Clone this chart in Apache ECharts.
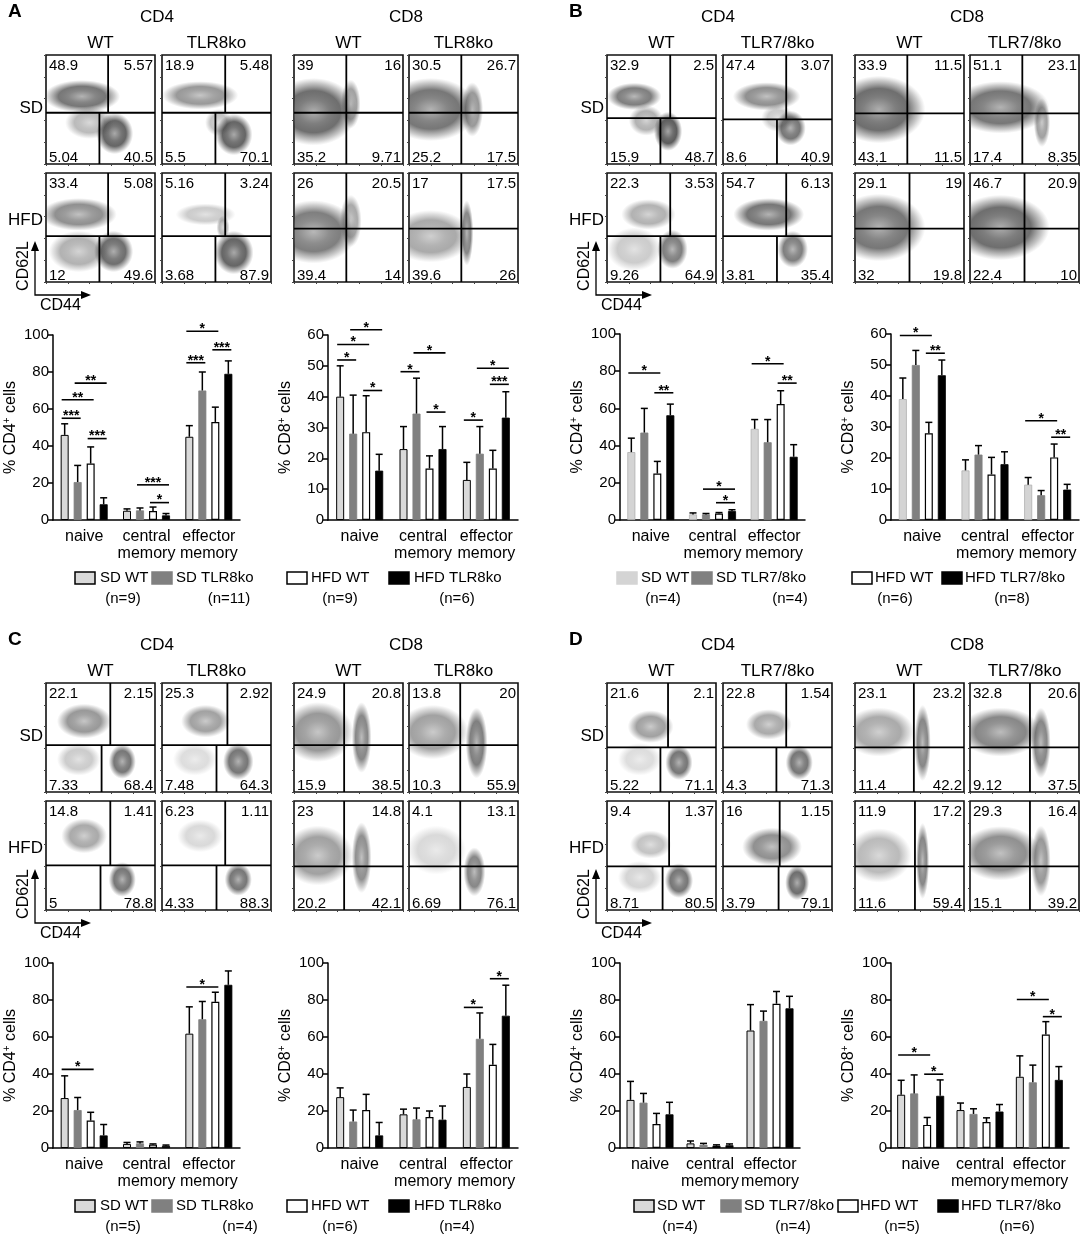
<!DOCTYPE html>
<html><head><meta charset="utf-8">
<script src="https://cdn.jsdelivr.net/npm/echarts@6/dist/echarts.min.js"></script>
<style>html,body{margin:0;padding:0;background:#fff}#c{width:1084px;height:1238px}</style>
</head><body><div id="c"></div>
<script>
// ---------------- DATA ----------------
const barCategories = ['naive', 'central\nmemory', 'effector\nmemory'];
const groupsTLR8 = ['SD WT', 'SD TLR8ko', 'HFD WT', 'HFD TLR8ko'];
const groupsTLR78 = ['SD WT', 'SD TLR7/8ko', 'HFD WT', 'HFD TLR7/8ko'];
const flowRowLabels = ['SD', 'HFD'];
const flowColLabelsTLR8 = ['WT', 'TLR8ko', 'WT', 'TLR8ko'];
const flowColLabelsTLR78 = ['WT', 'TLR7/8ko', 'WT', 'TLR7/8ko'];
const cellLabels = ['CD4', 'CD8'];
const aN = [9, 11, 9, 6], bN = [4, 4, 6, 8], cN = [5, 4, 6, 4], dN = [4, 4, 5, 6];

// bar means / error-bar tops: rows = SD WT, SD KO, HFD WT, HFD KO; cols = naive, central, effector
const aCD4Mean = [[46, 5, 45], [20.5, 5.2, 70], [30.5, 4.8, 53], [8.5, 2.5, 79]];
const aCD4Err  = [[52, 6, 51], [29.5, 6.5, 80], [39.5, 7, 61], [12, 3.5, 86]];
const aCD4Sig  = [[0,0,1,55,'***'],[0,0,2,65,'**'],[0,1,3,74,'**'],[0,2,3,44,'***'],[1,1,3,19,'***'],[1,2,3,9.4,'*'],[2,0,2,102,'*'],[2,0,1,85,'***'],[2,2,3,92,'***']];
const aCD8Mean = [[40, 23, 13], [28, 34.5, 21.5], [28.5, 16.7, 16.7], [16, 23, 33.2]];
const aCD8Err  = [[50, 30.3, 18.7], [40.5, 46, 30.3], [40.3, 20.8, 22.6], [21.3, 30.3, 41.6]];
const aCD8Sig  = [[0,0,1,51.9,'*'],[0,0,2,56.9,'*'],[0,1,3,61.7,'*'],[0,2,3,42,'*'],[1,0,1,48.1,'*'],[1,1,3,54.2,'*'],[1,2,3,35,'*'],[2,0,1,32.4,'*'],[2,1,3,49.2,'*'],[2,2,3,44,'***']];
const bCD4Mean = [[36.5, 3, 49], [47, 3, 41.8], [25, 3.5, 62.3], [56.3, 4.8, 34]];
const bCD4Err  = [[44, 3.8, 54], [60, 3.5, 54], [31.5, 4, 69.5], [62.3, 5.5, 40.5]];
const bCD4Sig  = [[0,0,2,79,'*'],[0,2,3,68.4,'**'],[1,1,3,16.6,'*'],[1,2,3,9.3,'*'],[2,0,2,84,'*'],[2,2,3,73.6,'**']];
const bCD8Mean = [[39, 16, 11.4], [50, 21.1, 8], [28, 14.7, 20.2], [46.7, 18, 9.8]];
const bCD8Err  = [[45.8, 19.4, 13.7], [54.7, 24, 9.5], [31.5, 20.2, 24.5], [51.6, 22, 11.5]];
const bCD8Sig  = [[0,0,2,59.5,'*'],[0,2,3,53.8,'**'],[2,0,2,32,'*'],[2,2,3,26.7,'**']];
const cCD4Mean = [[27, 2.2, 61.8], [20.5, 2.5, 69.6], [14.8, 1.8, 79], [6.8, 1.2, 88.2]];
const cCD4Err  = [[39, 3, 76.3], [27.3, 3.3, 79.2], [19.3, 2.2, 84.2], [12.7, 1.6, 95.7]];
const cCD4Sig  = [[0,0,2,42.5,'*'],[2,0,2,87,'*']];
const cCD8Mean = [[27.5, 18.2, 33], [14.3, 15.5, 59], [20.5, 16.7, 45], [6.8, 15.3, 71.5]];
const cCD8Err  = [[32.5, 21, 40], [20.5, 21.6, 73], [29, 20, 56], [13.8, 22.7, 88]];
const cCD8Sig  = [[2,0,1,76,'*'],[2,2,3,91.5,'*']];
const dCD4Mean = [[26, 2.5, 63.5], [24.5, 1.8, 68.7], [13, 1.2, 78], [18.2, 1.5, 75.5]];
const dCD4Err  = [[36, 3.8, 77.5], [29.5, 2.5, 74], [18.7, 1.7, 84.6], [24.7, 2.2, 82]];
const dCD4Sig  = [];
const dCD8Mean = [[28.8, 20.5, 38.5], [29.5, 18.4, 35.5], [12.5, 14, 61.3], [28.2, 19.7, 36.8]];
const dCD8Err  = [[36.6, 24.3, 49.8], [39.5, 21.2, 44.8], [16.5, 16.3, 68.3], [36.8, 23.5, 44]];
const dCD8Sig  = [[0,0,2,50.3,'*'],[0,2,3,39.9,'*'],[2,0,2,80.3,'*'],[2,2,3,71,'*']];

// flow quadrant percentages [row][col] -> [upper-left, upper-right, lower-left, lower-right]
const aFlowQuad = [
  [['48.9','5.57','5.04','40.5'], ['18.9','5.48','5.5','70.1'], ['39','16','35.2','9.71'], ['30.5','26.7','25.2','17.5']],
  [['33.4','5.08','12','49.6'], ['5.16','3.24','3.68','87.9'], ['26','20.5','39.4','14'], ['17','17.5','39.6','26']]
];
const bFlowQuad = [
  [['32.9','2.5','15.9','48.7'], ['47.4','3.07','8.6','40.9'], ['33.9','11.5','43.1','11.5'], ['51.1','23.1','17.4','8.35']],
  [['22.3','3.53','9.26','64.9'], ['54.7','6.13','3.81','35.4'], ['29.1','19','32','19.8'], ['46.7','20.9','22.4','10']]
];
const cFlowQuad = [
  [['22.1','2.15','7.33','68.4'], ['25.3','2.92','7.48','64.3'], ['24.9','20.8','15.9','38.5'], ['13.8','20','10.3','55.9']],
  [['14.8','1.41','5','78.8'], ['6.23','1.11','4.33','88.3'], ['23','14.8','20.2','42.1'], ['4.1','13.1','6.69','76.1']]
];
const dFlowQuad = [
  [['21.6','2.1','5.22','71.1'], ['22.8','1.54','4.3','71.3'], ['23.1','23.2','11.4','42.2'], ['32.8','20.6','9.12','37.5']],
  [['9.4','1.37','8.71','80.5'], ['16','1.15','3.79','79.1'], ['11.9','17.2','11.6','59.4'], ['29.3','16.4','15.1','39.2']]
];
// gate positions in plot units [CD62L gate, CD44 gate upper, CD44 gate lower]
const aFlowGate = [[[47,57,49],[47,58,49],[47,48,48],[47,48,48]], [[42,57,49],[42,58,49],[49,48,48],[49,48,48]]];
const bFlowGate = [[[42,58,49],[41,58,49.5],[46.5,48,48],[46.5,48,48]], [[42,58,49],[42,58,49.5],[49,50,50],[49,50,50]]];
const cFlowGate = [[[43,59,51],[43,60,50],[43,46,46],[43,47,47]], [[41,59,50],[41,58,50],[40,46,46],[40,47,47]]];
const dFlowGate = [[[41,56,49],[41,58,49],[41,54,54],[41,55,55]], [[40,57,51],[40,52,51],[40,55,55],[40,55,55]]];
// cell clusters: [CD44 centre, CD62L centre, CD44 spread, CD62L spread, density]
const aFlowBlob = [
  [[[33,62,70,30,0.8],[63,28,34,38,0.9],[40,38,45,30,0.4]],
   [[35,63,70,26,0.6],[66,27,34,38,0.9],[52,38,25,25,0.35]],
   [[18,48,80,62,0.85],[52,55,18,45,0.55]],
   [[20,50,85,58,0.8],[58,50,20,50,0.6]]],
  [[[30,62,70,30,0.65],[62,28,36,38,0.85],[30,28,55,38,0.45]],
   [[40,62,55,20,0.3],[66,27,36,40,0.9],[56,50,12,22,0.4]],
   [[18,46,80,58,0.75],[52,56,20,48,0.5]],
   [[20,42,75,48,0.5],[53,45,12,60,0.7]]]
];
const bFlowBlob = [
  [[[25,62,50,25,0.75],[56,30,26,36,0.95],[36,40,32,28,0.45]],
   [[40,62,62,26,0.65],[62,33,28,32,0.8],[50,42,30,25,0.3]],
   [[22,50,85,62,0.85]],
   [[28,52,90,48,0.8],[66,38,15,45,0.55]]],
  [[[38,62,50,28,0.45],[60,30,28,36,0.75],[25,30,50,40,0.3]],
   [[42,62,65,30,0.8],[64,30,28,34,0.75]],
   [[22,50,85,62,0.8]],
   [[28,50,90,60,0.85]]]
];
const cFlowBlob = [
  [[[35,65,50,32,0.6],[70,28,25,32,0.8],[30,30,40,30,0.3]],
   [[40,65,45,30,0.55],[70,28,28,34,0.8],[30,30,40,30,0.2]],
   [[22,55,65,55,0.6],[62,50,18,65,0.7]],
   [[22,55,65,50,0.55],[62,45,20,65,0.75]]],
  [[[35,68,42,32,0.5],[70,28,25,32,0.8]],
   [[35,68,42,30,0.22],[70,28,25,30,0.8]],
   [[22,50,65,55,0.55],[62,48,18,65,0.65]],
   [[25,55,55,45,0.22],[60,35,20,45,0.7]]]
];
const dFlowBlob = [
  [[[40,60,42,30,0.55],[66,27,25,32,0.8],[30,30,40,30,0.2]],
   [[42,62,42,28,0.5],[70,27,25,32,0.8]],
   [[22,55,65,45,0.5],[62,45,15,70,0.7]],
   [[28,55,75,45,0.7],[65,45,18,65,0.7]]],
  [[[40,60,38,26,0.35],[66,27,26,32,0.8],[30,30,40,30,0.25]],
   [[45,58,55,35,0.65],[68,25,22,32,0.85]],
   [[22,50,60,50,0.4],[62,45,12,70,0.7]],
   [[28,52,75,50,0.65],[65,45,18,65,0.6]]]
];

// ---------------- BUILD ----------------
const FONT = '"Liberation Sans", Arial, Helvetica, sans-serif';
const grid = [], xAxis = [], yAxis = [], series = [], graphic = [];

function txt(text, x, y, size, align, valign, extra) {
  return Object.assign({type: 'text', x: x, y: y, silent: true,
    style: {text: text, font: (extra && extra.bold ? 'bold ' : '') + size + 'px ' + FONT, fill: '#000',
      textAlign: align, textVerticalAlign: valign, align: align, verticalAlign: valign}}, extra && extra.rot ? {rotation: extra.rot} : {});
}

function blobRender(params, api) {
  const c = api.coord([api.value(0), api.value(1)]);
  const s = api.size([api.value(2), api.value(3)]);
  const a = api.value(4);
  const cs = params.coordSys;
  const grad = new echarts.graphic.RadialGradient(0.5, 0.5, 0.5, [
    {offset: 0, color: 'rgba(160,160,160,' + a + ')'},
    {offset: 0.35, color: 'rgba(105,105,105,' + a + ')'},
    {offset: 0.62, color: 'rgba(55,55,55,' + (a * 0.85) + ')'},
    {offset: 0.85, color: 'rgba(70,70,70,' + (a * 0.35) + ')'},
    {offset: 1, color: 'rgba(100,100,100,0)'}]);
  return {type: 'group',
    clipPath: {type: 'rect', shape: {x: cs.x, y: cs.y, width: cs.width, height: cs.height}},
    children: [{type: 'circle', shape: {cx: 0, cy: 0, r: 1}, x: c[0], y: c[1],
      scaleX: Math.max(s[0] / 2, 0.5), scaleY: Math.max(s[1] / 2, 0.5), style: {fill: grad}}]};
}

function addFlow(left, top, quad, gate, blobs) {
  const gi = grid.length;
  grid.push({left: left, top: top, width: 109, height: 109, show: true, borderColor: '#111', borderWidth: 1.6, backgroundColor: '#fff'});
  const ax = {gridIndex: gi, type: 'value', min: 0, max: 100, interval: 20, axisLine: {show: false}, axisLabel: {show: false},
    splitLine: {show: false}, axisTick: {show: true, length: 2, lineStyle: {color: '#444', width: 1}}};
  xAxis.push(Object.assign({}, ax));
  yAxis.push(Object.assign({}, ax));
  series.push({type: 'custom', xAxisIndex: gi, yAxisIndex: gi, clip: true, silent: true, z: 1,
    data: blobs, renderItem: blobRender});
  series.push({type: 'custom', xAxisIndex: gi, yAxisIndex: gi, silent: true, z: 3, data: [gate],
    renderItem: function (params, api) {
      const h = api.value(0), vu = api.value(1), vl = api.value(2);
      const tl = api.coord([0, 100]), br = api.coord([100, 0]);
      const yH = api.coord([0, h])[1], xU = api.coord([vu, 0])[0], xL = api.coord([vl, 0])[0];
      const ls = {stroke: '#000', lineWidth: 1.8};
      const t = function (s, x, y, al, va) {
        return {type: 'text', style: {text: s, x: x, y: y, textAlign: al, textVerticalAlign: va, align: al, verticalAlign: va,
          font: '15px ' + FONT, fill: '#000'}};
      };
      return {type: 'group', children: [
        {type: 'line', shape: {x1: tl[0], y1: yH, x2: br[0], y2: yH}, style: ls},
        {type: 'line', shape: {x1: xU, y1: tl[1], x2: xU, y2: yH}, style: ls},
        {type: 'line', shape: {x1: xL, y1: yH, x2: xL, y2: br[1]}, style: ls},
        t(quad[0], tl[0] + 3, tl[1] + 3, 'left', 'top'),
        t(quad[1], br[0] - 2, tl[1] + 3, 'right', 'top'),
        t(quad[2], tl[0] + 3, br[1] + 1, 'left', 'bottom'),
        t(quad[3], br[0] - 2, br[1] + 1, 'right', 'bottom')
      ]};
    }});
}

const STEP = 13, BW = 8;
function styleFor(g, panelB) {
  if (g === 0) return panelB ? {color: '#d4d4d4', borderColor: '#b0b0b0', borderWidth: 0.8} : {color: '#d9d9d9', borderColor: '#000', borderWidth: 1};
  if (g === 1) return {color: '#808080', borderColor: '#808080', borderWidth: 0.8};
  if (g === 2) return {color: '#fff', borderColor: '#000', borderWidth: 1.2};
  return {color: '#000', borderColor: '#000', borderWidth: 0.8};
}

function addBar(left, top, width, height, max, interval, mean, err, sig, cell, panelB) {
  const gi = grid.length;
  grid.push({left: left, top: top, width: width, height: height});
  xAxis.push({gridIndex: gi, type: 'category', data: barCategories,
    axisLine: {lineStyle: {color: '#000', width: 1.5}},
    axisTick: {alignWithLabel: true, length: 5, lineStyle: {color: '#000', width: 1.5}},
    axisLabel: {interval: 0, color: '#000', fontSize: 16, lineHeight: 17, margin: 8, fontFamily: FONT}});
  yAxis.push({gridIndex: gi, type: 'value', min: 0, max: max, interval: interval,
    axisLine: {show: true, lineStyle: {color: '#000', width: 1.5}},
    axisTick: {show: true, length: 5, lineStyle: {color: '#000', width: 1.5}},
    splitLine: {show: false},
    axisLabel: {color: '#000', fontSize: 15, margin: 4, fontFamily: FONT},
    name: '% ' + cell + '{s|+} cells', nameLocation: 'middle', nameRotate: 90, nameGap: 33,
    nameTextStyle: {color: '#000', fontSize: 16, fontFamily: FONT, lineHeight: 18,
      rich: {s: {fontSize: 10, verticalAlign: 'top', lineHeight: 18, fontFamily: FONT, color: '#000'}}}});
  for (let g = 0; g < 4; g++) {
    series.push({type: 'bar', xAxisIndex: gi, yAxisIndex: gi, data: mean[g], barWidth: BW, barGap: '62.5%',
      itemStyle: styleFor(g, panelB), silent: true, z: 2});
  }
  const ed = [];
  for (let g = 0; g < 4; g++) for (let c = 0; c < 3; c++) ed.push([c, g, mean[g][c], err[g][c]]);
  series.push({type: 'custom', xAxisIndex: gi, yAxisIndex: gi, silent: true, z: 3, data: ed,
    encode: {x: 0, y: 3},
    renderItem: function (params, api) {
      const b = api.coord([api.value(0), api.value(2)]);
      const t = api.coord([api.value(0), api.value(3)]);
      const x = b[0] + (api.value(1) - 1.5) * STEP;
      const st = {stroke: '#000', lineWidth: 1.5};
      return {type: 'group', children: [
        {type: 'line', shape: {x1: x, y1: b[1], x2: x, y2: t[1]}, style: st},
        {type: 'line', shape: {x1: x - 3.5, y1: t[1], x2: x + 3.5, y2: t[1]}, style: st}]};
    }});
  if (sig.length) {
    series.push({type: 'custom', xAxisIndex: gi, yAxisIndex: gi, silent: true, z: 4,
      data: sig.map(function (s) { return [s[0], s[3], s[1], s[2]]; }),
      encode: {x: 0, y: 1},
      renderItem: function (params, api) {
        const c = api.coord([api.value(0), api.value(1)]);
        const x1 = c[0] + (api.value(2) - 1.5) * STEP - 3, x2 = c[0] + (api.value(3) - 1.5) * STEP + 3;
        const lab = sig[params.dataIndex][4];
        return {type: 'group', children: [
          {type: 'line', shape: {x1: x1, y1: c[1], x2: x2, y2: c[1]}, style: {stroke: '#000', lineWidth: 1.6}},
          {type: 'text', style: {text: lab, x: (x1 + x2) / 2, y: c[1] - 9, textAlign: 'center', textVerticalAlign: 'top',
            align: 'center', verticalAlign: 'top', font: 'bold 14px ' + FONT, fill: '#000'}}]};
      }});
  }
}

function addLegend(names, ns, swX, txX, nX, y, panelB) {
  for (let g = 0; g < 4; g++) {
    const s = styleFor(g, panelB);
    graphic.push({type: 'rect', silent: true, shape: {x: swX[g], y: y - 6, width: 20, height: 12},
      style: {fill: s.color, stroke: (g === 0 && !panelB) || g === 2 ? '#000' : s.color, lineWidth: 1.5}});
    graphic.push(txt(names[g], txX[g], y, 15, 'left', 'middle'));
    graphic.push(txt('(n=' + ns[g] + ')', nX[g], y + 21, 15, 'center', 'middle'));
  }
}

function addPanel(letter, dx, dy, quad, gate, blob, colLabels) {
  const fx = [46, 162, 294, 409].map(function (v) { return v + dx; });
  const fy = [55, 173].map(function (v) { return v + dy; });
  for (let r = 0; r < 2; r++) for (let c = 0; c < 4; c++) addFlow(fx[c], fy[r], quad[r][c], gate[r][c], blob[r][c]);
  graphic.push(txt(letter, 8 + dx, 12 + dy, 19, 'left', 'middle', {bold: true}));
  graphic.push(txt(cellLabels[0], 157 + dx, 17 + dy, 17, 'center', 'middle'));
  graphic.push(txt(cellLabels[1], 406 + dx, 17 + dy, 17, 'center', 'middle'));
  for (let c = 0; c < 4; c++) graphic.push(txt(colLabels[c], fx[c] + 54.5, 43 + dy, 17, 'center', 'middle'));
  graphic.push(txt(flowRowLabels[0], 43 + dx, 108 + dy, 17, 'right', 'middle'));
  graphic.push(txt(flowRowLabels[1], 43 + dx, 220 + dy, 17, 'right', 'middle'));
  // axis arrows
  const ox = 35 + dx, oy = 295 + dy;
  graphic.push({type: 'polyline', silent: true, shape: {points: [[ox, oy - 46], [ox, oy], [ox + 48, oy]]}, style: {stroke: '#000', lineWidth: 1.3, fill: null}});
  graphic.push({type: 'polygon', silent: true, shape: {points: [[ox - 4, oy - 44], [ox + 4, oy - 44], [ox, oy - 54]]}, style: {fill: '#000'}});
  graphic.push({type: 'polygon', silent: true, shape: {points: [[ox + 46, oy - 4], [ox + 46, oy + 4], [ox + 56, oy]]}, style: {fill: '#000'}});
  graphic.push(txt('CD62L', 24 + dx, 266 + dy, 16, 'center', 'middle', {rot: Math.PI / 2}));
  graphic.push(txt('CD44', 40 + dx, 306 + dy, 16, 'left', 'middle'));
}

addPanel('A', 0, 0, aFlowQuad, aFlowGate, aFlowBlob, flowColLabelsTLR8);
addPanel('B', 561, 0, bFlowQuad, bFlowGate, bFlowBlob, flowColLabelsTLR78);
addPanel('C', 0, 628, cFlowQuad, cFlowGate, cFlowBlob, flowColLabelsTLR8);
addPanel('D', 561, 628, dFlowQuad, dFlowGate, dFlowBlob, flowColLabelsTLR78);

addBar(53, 335, 187, 185, 100, 20, aCD4Mean, aCD4Err, aCD4Sig, 'CD4', false);
addBar(328, 335, 190, 185, 60, 10, aCD8Mean, aCD8Err, aCD8Sig, 'CD8', false);
addBar(620, 334, 185, 186, 100, 20, bCD4Mean, bCD4Err, bCD4Sig, 'CD4', true);
addBar(891, 334, 188, 186, 60, 10, bCD8Mean, bCD8Err, bCD8Sig, 'CD8', true);
addBar(53, 963, 187, 185, 100, 20, cCD4Mean, cCD4Err, cCD4Sig, 'CD4', false);
addBar(328, 963, 190, 185, 100, 20, cCD8Mean, cCD8Err, cCD8Sig, 'CD8', false);
addBar(620, 963, 180, 185, 100, 20, dCD4Mean, dCD4Err, dCD4Sig, 'CD4', false);
addBar(891, 963, 178, 185, 100, 20, dCD8Mean, dCD8Err, dCD8Sig, 'CD8', false);

addLegend(groupsTLR8, aN, [75, 152, 287, 389], [100, 176, 311, 414], [123, 229, 340, 457], 578, false);
addLegend(groupsTLR78, bN, [617, 692, 852, 942], [641, 716, 875, 965], [663, 790, 895, 1012], 578, true);
addLegend(groupsTLR8, cN, [75, 152, 287, 389], [100, 176, 311, 414], [123, 240, 340, 457], 1206, false);
addLegend(groupsTLR78, dN, [634, 721, 838, 938], [657, 744, 860, 961], [680, 793, 902, 1017], 1206, false);

const chart = echarts.init(document.getElementById('c'), null, {renderer: 'canvas', width: 1084, height: 1238});
chart.setOption({
  animation: false,
  backgroundColor: '#fff',
  textStyle: {fontFamily: FONT},
  grid: grid, xAxis: xAxis, yAxis: yAxis, series: series, graphic: graphic
});
</script></body></html>
